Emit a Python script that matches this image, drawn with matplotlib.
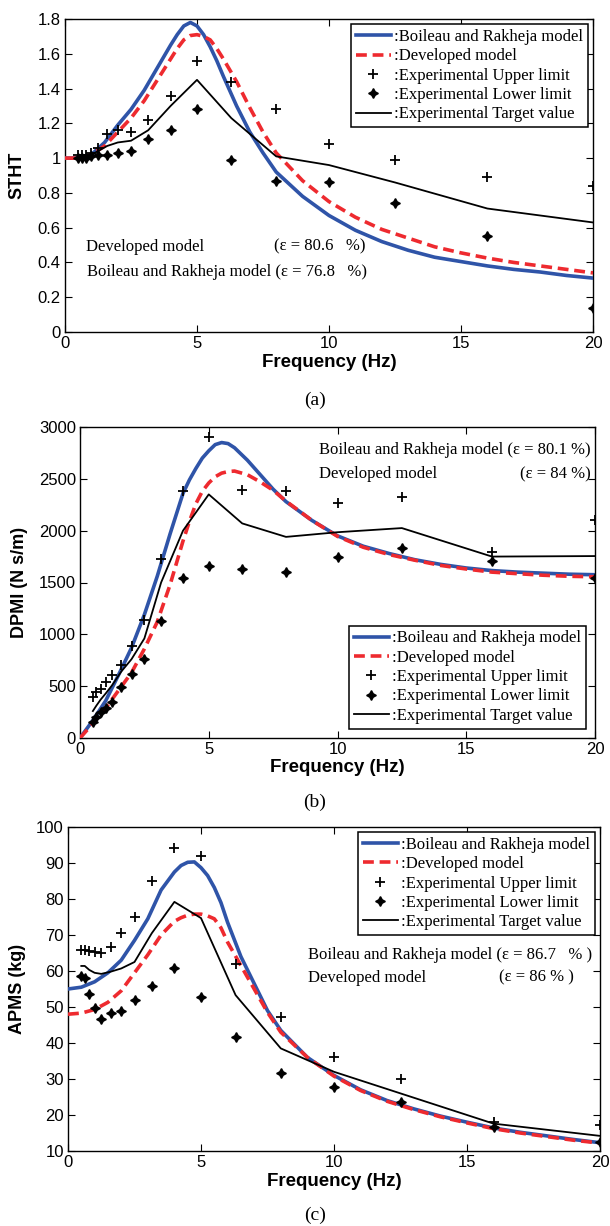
import numpy as np
import matplotlib
matplotlib.use("Agg")
import matplotlib.pyplot as plt

W, H = 610, 1226

# experimental frequencies (Hz)
freq_exp = [0.5, 0.63, 0.8, 1.0, 1.25, 1.6, 2.0, 2.5, 3.15, 4.0, 5.0, 6.3, 8.0, 10, 12.5, 16, 20]
# model frequency grid (Hz)
freq_mod = [0, 0.5, 1, 1.5, 2, 2.5, 3, 3.5, 4, 4.25, 4.5, 4.75, 5, 5.25, 5.5, 5.75, 6,
            6.5, 7, 7.5, 8, 9, 10, 11, 12, 13, 14, 15, 16, 17, 18, 19, 20]

# (a) STHT
stht_boileau = [1.0, 1.0, 1.02, 1.09, 1.19, 1.28, 1.39, 1.52, 1.65, 1.71, 1.76, 1.78, 1.76,
                1.71, 1.64, 1.56, 1.47, 1.30, 1.15, 1.03, 0.92, 0.78, 0.67, 0.585, 0.52,
                0.47, 0.43, 0.405, 0.38, 0.36, 0.345, 0.325, 0.31]
stht_developed = [1.0, 1.0, 1.02, 1.07, 1.15, 1.23, 1.33, 1.45, 1.57, 1.63, 1.68, 1.705, 1.71,
                  1.70, 1.68, 1.63, 1.57, 1.44, 1.29, 1.15, 1.03, 0.87, 0.75, 0.66, 0.59,
                  0.54, 0.49, 0.455, 0.425, 0.40, 0.38, 0.36, 0.34]
stht_upper = [1.02, 1.02, 1.02, 1.03, 1.06, 1.14, 1.16, 1.15, 1.22, 1.36, 1.56, 1.44, 1.28,
              1.08, 0.99, 0.89, 0.84]
stht_lower = [1.0, 1.0, 1.0, 1.01, 1.02, 1.02, 1.03, 1.04, 1.11, 1.16, 1.28, 0.99, 0.87,
              0.86, 0.74, 0.55, 0.14]
stht_target = [1.01, 1.01, 1.01, 1.02, 1.04, 1.07, 1.09, 1.10, 1.16, 1.30, 1.45, 1.23, 1.01,
               0.96, 0.86, 0.71, 0.63]

# (b) DPMI
dpmi_boileau = [0, 170, 360, 610, 870, 1190, 1560, 1970, 2360, 2490, 2600, 2700, 2770, 2830,
                2850, 2840, 2800, 2680, 2540, 2400, 2280, 2100, 1950, 1850, 1780, 1720,
                1675, 1640, 1615, 1600, 1590, 1580, 1575]
dpmi_developed = [0, 140, 290, 460, 630, 860, 1120, 1480, 1900, 2090, 2260, 2380, 2460, 2520,
                  2555, 2570, 2575, 2540, 2470, 2390, 2285, 2100, 1945, 1840, 1770, 1715,
                  1665, 1630, 1600, 1585, 1570, 1560, 1555]
dpmi_upper = [400, 440, 470, 537, 605, 700, 890, 1140, 1730, 2380, 2900, 2395, 2385, 2270,
              2320, 1790, 2100]
dpmi_lower = [150, 205, 255, 290, 350, 495, 614, 760, 1130, 1540, 1660, 1630, 1600, 1750,
              1830, 1705, 1545]
dpmi_target = [260, 310, 370, 430, 510, 640, 760, 960, 1500, 2000, 2350, 2070, 1940, 1985,
               2025, 1750, 1755]

# (c) APMS
apms_boileau = [55, 55.5, 57, 59.5, 63, 68.5, 74.5, 82.5, 87.5, 89.3, 90.2, 90.3, 88.7, 86.5,
                83.2, 79, 73.5, 64, 56.5, 49, 43.5, 36, 31, 27, 24, 21.7, 19.7, 18, 16.4,
                15.2, 14.2, 13.2, 12.3]
apms_developed = [48, 48.3, 49.3, 51.3, 54.5, 59.5, 64.5, 70, 73.8, 74.8, 75.5, 75.8, 75.8,
                  75.3, 74.5, 72, 68, 61.5, 55, 48.5, 43, 36, 30.8, 26.8, 23.8, 21.5, 19.5,
                  17.8, 16.2, 15, 14, 13, 12.2]
apms_upper = [65.7, 65.7, 65.5, 65.2, 65.0, 66.8, 70.5, 74.9, 85.1, 94.3, 92.0, 61.9, 47.2,
              36.1, 29.9, 18.1, 17.1]
apms_lower = [58.7, 58.1, 53.7, 49.8, 46.7, 48.4, 48.9, 52.0, 55.8, 60.9, 52.7, 41.7, 31.8,
              27.8, 23.5, 16.7, 12.5]
apms_target = [61.4, 61.4, 60.3, 59.5, 59.2, 59.8, 60.7, 62.5, 70.5, 79.2, 74.7, 53.3, 38.5,
               32.0, 26.0, 17.6, 14.2]

BLUE = "#2f54a8"
RED = "#ee2a2f"
SANS = "Liberation Sans"
SERIF = "Liberation Serif"

plt.rcParams["font.family"] = SANS

labels = [":Boileau and Rakheja model", ":Developed model", ":Experimental Upper limit",
          ":Experimental Lower limit", ":Experimental Target value"]


def px_axes(left, right, top, bottom):
    return [left / W, 1 - bottom / H, (right - left) / W, (bottom - top) / H]


def panel(ax, boileau, developed, upper, lower, target):
    h1, = ax.plot(freq_mod, boileau, color=BLUE, lw=2.6, zorder=3)
    h2, = ax.plot(freq_mod, developed, color=RED, lw=2.6, dashes=(3.0, 1.6), zorder=4)
    h3, = ax.plot(freq_exp, upper, ls="none", marker="+", ms=7, mew=1.3, color="black", zorder=5)
    h4, = ax.plot(freq_exp, lower, ls="none", marker=(4, 1, 0), ms=7, color="black", zorder=5)
    h5, = ax.plot(freq_exp, target, color="black", lw=1.3, zorder=4)
    ax.set_xlim(0, 20)
    ax.set_xticks([0, 5, 10, 15, 20])
    ax.tick_params(direction="in", top=True, right=True, length=5, width=0.8,
                   labelsize=12, pad=3)
    for s in ax.spines.values():
        s.set_linewidth(1.0)
    ax.set_xlabel("Frequency (Hz)", fontsize=13.5, fontweight="bold")
    return [h1, h2, h3, h4, h5]


def add_legend(ax, handles, loc, pad):
    leg = ax.legend(handles, labels, loc=loc, prop={"family": SERIF, "size": 12},
                    fancybox=False, framealpha=1, edgecolor="black", handlelength=2.1,
                    handletextpad=0.2, labelspacing=0.2, borderpad=0.3,
                    borderaxespad=pad, numpoints=1)
    leg.get_frame().set_linewidth(1.1)


def place_labels(ax, ylx, xly):
    ax.yaxis.set_label_coords(ylx, 0.5)
    ax.yaxis.label.set_va("center")
    ax.xaxis.set_label_coords(0.5, xly)
    ax.xaxis.label.set_va("center")


fig = plt.figure(figsize=(W / 100, H / 100), dpi=100)

# ---- (a)
ax = fig.add_axes(px_axes(65, 593, 19, 332))
hs = panel(ax, stht_boileau, stht_developed, stht_upper, stht_lower, stht_target)
ax.set_ylim(0, 1.8)
ax.set_yticks(np.arange(0, 1.81, 0.2))
ax.set_yticklabels(["0", "0.2", "0.4", "0.6", "0.8", "1", "1.2", "1.4", "1.6", "1.8"])
ax.set_ylabel("STHT", fontsize=13, fontweight="bold")
place_labels(ax, -0.091, -0.096)
add_legend(ax, hs, "upper right", 0.3)
ax.text(0.8, 0.49, "Developed model", family=SERIF, fontsize=12, va="center")
ax.text(7.9, 0.49, "(\u03b5 = 80.6   %)", family=SERIF, fontsize=12, va="center")
ax.text(0.85, 0.343, "Boileau and Rakheja model (\u03b5 = 76.8   %)", family=SERIF,
        fontsize=12, va="center")
fig.text(0.516, 1 - 400 / H, "(a)", family=SERIF, fontsize=14, ha="center", va="center")

# ---- (b)
ax = fig.add_axes(px_axes(80, 595, 427, 738))
hs = panel(ax, dpmi_boileau, dpmi_developed, dpmi_upper, dpmi_lower, dpmi_target)
ax.set_ylim(0, 3000)
ax.set_yticks(np.arange(0, 3001, 500))
ax.set_ylabel("DPMI (N s/m)", fontsize=13, fontweight="bold")
place_labels(ax, -0.117, -0.096)
add_legend(ax, hs, "lower right", 0.55)
ax.text(9.3, 2781, "Boileau and Rakheja model (\u03b5 = 80.1 %)", family=SERIF, fontsize=12,
        va="center")
ax.text(9.3, 2543, "Developed model", family=SERIF, fontsize=12, va="center")
ax.text(17.1, 2543, "(\u03b5 = 84 %)", family=SERIF, fontsize=12, va="center")
fig.text(0.516, 1 - 802 / H, "(b)", family=SERIF, fontsize=14, ha="center", va="center")

# ---- (c)
ax = fig.add_axes(px_axes(68, 600, 827, 1151))
hs = panel(ax, apms_boileau, apms_developed, apms_upper, apms_lower, apms_target)
ax.set_ylim(10, 100)
ax.set_yticks(np.arange(10, 101, 10))
ax.set_ylabel("APMS (kg)", fontsize=13, fontweight="bold")
place_labels(ax, -0.095, -0.093)
add_legend(ax, hs, "upper right", 0.3)
ax.text(9.04, 64.5, "Boileau and Rakheja model (\u03b5 = 86.7   % )", family=SERIF,
        fontsize=12, va="center")
ax.text(9.04, 58.1, "Developed model", family=SERIF, fontsize=12, va="center")
ax.text(16.2, 58.1, "(\u03b5 = 86 % )", family=SERIF, fontsize=12, va="center")
fig.text(0.516, 1 - 1215 / H, "(c)", family=SERIF, fontsize=14, ha="center", va="center")

fig.savefig("out.png", dpi=100)
